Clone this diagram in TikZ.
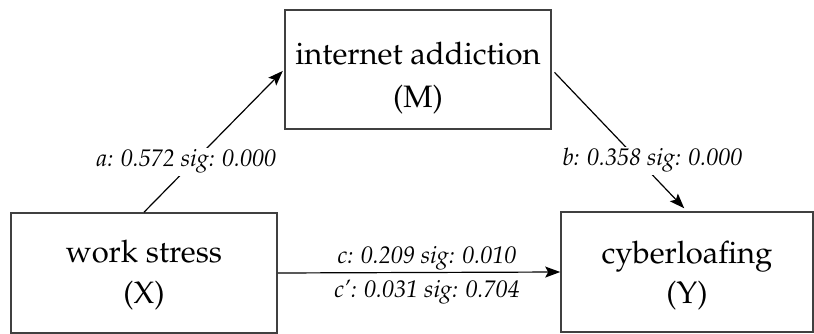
\documentclass[tikz,border=0pt]{standalone}
\usepackage[T1]{fontenc}
\usepackage{mathpazo}
\usetikzlibrary{arrows.meta}
\tikzset{
  boxnode/.style={draw=black!75, line width=1.6pt, minimum width=#1, inner sep=0pt},
  boxtext/.style={anchor=base, inner sep=0pt, font=\fontsize{31}{37}\selectfont},
  lbl/.style={anchor=base, inner sep=2pt, fill=white, font=\fontsize{24}{29}\selectfont\itshape},
  arr/.style={line width=1.2pt, -{Stealth[length=15pt,width=11pt,inset=3pt]}}
}
\begin{document}
\begin{tikzpicture}[x=1pt,y=-1pt]
\useasboundingbox (0,0) rectangle (814,334);
% boxes
\node[boxnode=266pt, minimum height=119pt] (M) at (418,69.5) {};
\node[boxnode=266pt, minimum height=120pt] (X) at (144,273) {};
\node[boxnode=252pt, minimum height=120pt] (Y) at (687,272) {};
% box texts
\node[boxtext] (Mt1) at (418,65) {internet addiction};
\node[boxtext] (Mt2) at (418,108) {(M)};
\node[boxtext] (Xt1) at (144,262) {work stress};
\node[boxtext] (Xt2) at (144,303) {(X)};
\node[boxtext] (Yt1) at (687,263) {cyberloafing};
\node[boxtext] (Yt2) at (687,303) {(Y)};
% arrows
\draw[arr, shorten >=2pt] (X.north) -- (M.west);
\draw[arr, shorten <=4pt, shorten >=4pt] (M.east) -- (Y.north);
\draw[arr] (X.east) -- (Y.west);
% labels
\node[lbl] (la) at (186.5,167) {a: 0.572 sig: 0.000};
\node[lbl] (lb) at (652.5,166) {b: 0.358 sig: 0.000};
\node[lbl, fill=none] (lc) at (427,263) {c: 0.209 sig: 0.010};
\node[lbl, fill=none] (lcp) at (427,297) {c': 0.031 sig: 0.704};
\end{tikzpicture}
\end{document}
